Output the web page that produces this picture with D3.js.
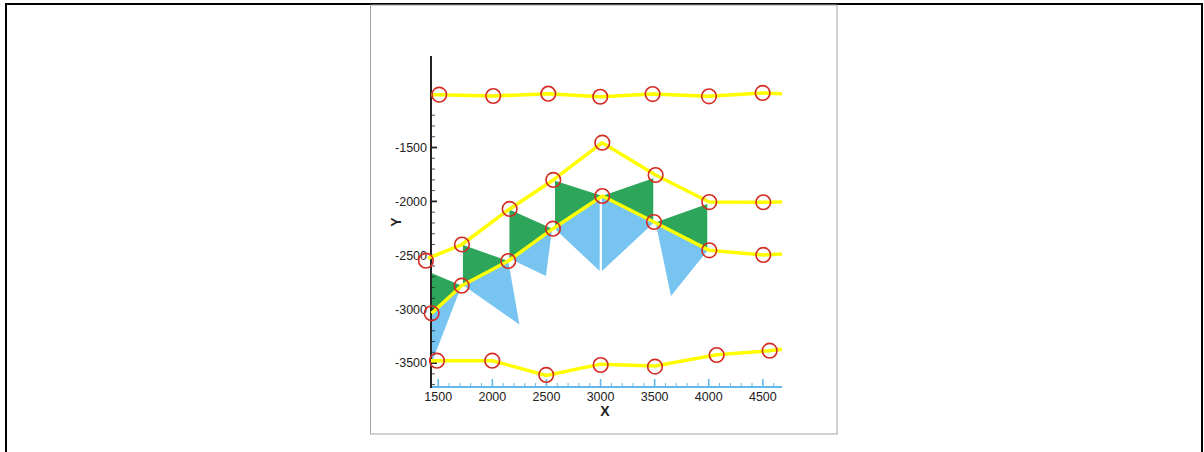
<!DOCTYPE html>
<html>
<head>
<meta charset="utf-8">
<script src="https://cdn.jsdelivr.net/npm/d3@7"></script>
<style>
  html, body { margin: 0; padding: 0; background: #fff; }
  svg { display: block; }
  text { font-family: "Liberation Sans", Arial, sans-serif; }
</style>
</head>
<body>
<svg id="chart" width="1204" height="452"></svg>
<script>
// ---------- data ----------
const xDomain = [1433, 4677];
const yDomain = [-3722, -651];
const xMajorTicks = [1500, 2000, 2500, 3000, 3500, 4000, 4500];
const yMajorTicks = [-1500, -2000, -2500, -3000, -3500];

// yellow line series (points along each line)
const line1X = [1433, 1509, 2008, 2517, 2997, 3481, 4002, 4498, 4677];
const line1Y = [-1010, -1010, -1022, -1001, -1029, -1004, -1025, -994, -1001];
const line2X = [1405, 1719, 2160, 2563, 3016, 3509, 4005, 4504, 4677];
const line2Y = [-2528, -2400, -2070, -1801, -1455, -1755, -2006, -2008, -2006];
const line3X = [1439, 1716, 2147, 2560, 3016, 3494, 4005, 4504, 4677];
const line3Y = [-3038, -2782, -2553, -2253, -1950, -2191, -2454, -2497, -2488];
const line4X = [1433, 1488, 1999, 2498, 3001, 3503, 4073, 4563, 4677];
const line4Y = [-3478, -3478, -3478, -3615, -3510, -3528, -3422, -3386, -3372];

// red circle markers
const mark1X = [1509, 2008, 2517, 2997, 3481, 4002, 4498];
const mark1Y = [-1010, -1022, -1001, -1029, -1004, -1025, -994];
const mark2X = [1386, 1719, 2160, 2563, 3016, 3509, 4005, 4504];
const mark2Y = [-2550, -2400, -2070, -1801, -1455, -1755, -2006, -2008];
const mark3X = [1439, 1716, 2147, 2560, 3016, 3494, 4005, 4504];
const mark3Y = [-3038, -2782, -2553, -2253, -1950, -2191, -2454, -2497];
const mark4X = [1488, 1999, 2498, 3001, 3503, 4073, 4563];
const mark4Y = [-3478, -3478, -3610, -3518, -3533, -3425, -3385];

// filled triangles (green above, blue below)
const greenPatches = [
  [[1437, -2664], [1716, -2782], [1437, -3020]],
  [[1728, -2404], [2147, -2553], [1728, -2776]],
  [[2158, -2075], [2560, -2256], [2158, -2528]],
  [[2579, -1808], [3004, -1945], [2579, -2230]],
  [[3013, -1950], [3487, -1786], [3487, -2184]],
  [[3507, -2196], [3986, -2024], [3986, -2443]]
];
const bluePatches = [
  [[1437, -3025], [1712, -2790], [1443, -3490]],
  [[1728, -2776], [2147, -2553], [2250, -3142]],
  [[2158, -2530], [2551, -2262], [2495, -2692]],
  [[2569, -2247], [2992, -1955], [2992, -2646]],
  [[3013, -1959], [3494, -2196], [3013, -2646]],
  [[3512, -2210], [3992, -2451], [3651, -2878]]
];

// ---------- drawing ----------
const svg = d3.select("#chart");

// outer frame
svg.append("rect").attr("x", 6).attr("y", 4).attr("width", 1196).attr("height", 520)
  .attr("fill", "#fff").attr("stroke", "#000").attr("stroke-width", 2);
// inner panel
svg.append("rect").attr("x", 370.5).attr("y", 5).attr("width", 466.5).attr("height", 429)
  .attr("fill", "#fff").attr("stroke", "#a3a3a3").attr("stroke-width", 1);

const x = d3.scaleLinear().domain(xDomain).range([431, 782]);
const y = d3.scaleLinear().domain(yDomain).range([387, 56]);

// patches
const poly = pts => "M" + pts.map(p => x(p[0]) + "," + y(p[1])).join("L") + "Z";
svg.append("g").selectAll("path").data(bluePatches).join("path")
  .attr("d", poly).attr("fill", "#77c4f0");
svg.append("g").selectAll("path").data(greenPatches).join("path")
  .attr("d", poly).attr("fill", "#2da55b");

// x axis (light blue, ticks inward)
const xAxisG = svg.append("g").attr("transform", "translate(0,387)");
const xMinor = d3.range(1500, 4601, 100);
xAxisG.selectAll("line.minor").data(xMinor).join("line")
  .attr("x1", d => x(d)).attr("x2", d => x(d))
  .attr("y1", 0).attr("y2", d => (d % 500 === 0 ? -8 : -4))
  .attr("stroke", "#62b8e8").attr("stroke-width", d => (d % 500 === 0 ? 1.6 : 1));
xAxisG.append("line").attr("x1", 431).attr("x2", 782).attr("y1", 0).attr("y2", 0)
  .attr("stroke", "#62b8e8").attr("stroke-width", 2);
xAxisG.selectAll("text").data(xMajorTicks).join("text")
  .attr("x", d => x(d)).attr("y", 13.5).attr("text-anchor", "middle")
  .attr("font-size", 12.5).attr("fill", "#222").text(d => d);

// y axis (black, ticks inward)
const yAxisG = svg.append("g").attr("transform", "translate(431,0)");
const yMinor = d3.range(-3700, -1199, 100);
yAxisG.selectAll("line.minor").data(yMinor).join("line")
  .attr("x1", 0).attr("x2", d => (d % 500 === 0 ? 6 : 4))
  .attr("y1", d => y(d)).attr("y2", d => y(d))
  .attr("stroke", "#222").attr("stroke-width", d => (d % 500 === 0 ? 1.8 : 0.8));
yAxisG.append("line").attr("x1", 0).attr("x2", 0).attr("y1", 56).attr("y2", 388)
  .attr("stroke", "#222").attr("stroke-width", 2);
yAxisG.selectAll("text").data(yMajorTicks).join("text")
  .attr("x", -4).attr("y", d => y(d)).attr("dy", "0.35em").attr("text-anchor", "end")
  .attr("font-size", 12.5).attr("fill", "#222").text(d => d);

// axis titles
svg.append("text").attr("x", 605).attr("y", 416).attr("text-anchor", "middle")
  .attr("font-size", 14).attr("font-weight", "bold").attr("fill", "#222").text("X");
svg.append("text").attr("transform", "translate(401,222) rotate(-90)").attr("text-anchor", "middle")
  .attr("font-size", 14).attr("font-weight", "bold").attr("fill", "#222").text("Y");

// yellow lines
const lineGen = d3.line().x(d => x(d[0])).y(d => y(d[1]));
const lines = [[line1X, line1Y], [line2X, line2Y], [line3X, line3Y], [line4X, line4Y]];
svg.append("g").selectAll("path").data(lines).join("path")
  .attr("d", ([xs, ys]) => lineGen(xs.map((v, i) => [v, ys[i]])))
  .attr("fill", "none").attr("stroke", "#ffff00").attr("stroke-width", 3.5)
  .attr("stroke-linejoin", "round");

// red circle markers
const marks = [[mark1X, mark1Y], [mark2X, mark2Y], [mark3X, mark3Y], [mark4X, mark4Y]];
const markPts = marks.flatMap(([xs, ys]) => xs.map((v, i) => [v, ys[i]]));
svg.append("g").selectAll("circle").data(markPts).join("circle")
  .attr("cx", d => x(d[0])).attr("cy", d => y(d[1])).attr("r", 7.3)
  .attr("fill", "none").attr("stroke", "#d42a22").attr("stroke-width", 1.6);
</script>
</body>
</html>
